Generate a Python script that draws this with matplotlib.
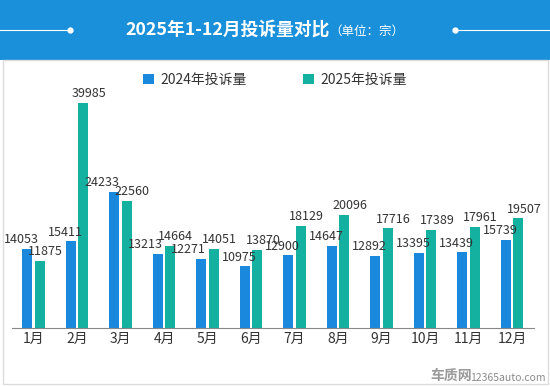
import matplotlib.pyplot as plt
import numpy as np
from matplotlib.patches import Rectangle

plt.rcParams['font.family'] = ['Noto Sans CJK SC', 'DejaVu Sans']

months = ['1月', '2月', '3月', '4月', '5月', '6月', '7月', '8月', '9月', '10月', '11月', '12月']
y2024 = [14053, 15411, 24233, 13213, 12271, 10975, 12900, 14647, 12892, 13395, 13439, 15739]
y2025 = [11875, 39985, 22560, 14664, 14051, 13870, 18129, 20096, 17716, 17389, 17961, 19507]

c24 = '#1a88dc'
c25 = '#14b1a1'
band = '#1a90da'

fig = plt.figure(figsize=(5.5, 3.86), dpi=100)
fig.patch.set_facecolor('white')

# header band
fig.patches.append(Rectangle((0, 1 - 60 / 386), 1, 60 / 386, transform=fig.transFigure,
                             facecolor=band, edgecolor='none', zorder=0))
# frame round the white area
fig.patches.append(Rectangle((3 / 550, 2 / 386), 545 / 550, 1 - 62 / 386, transform=fig.transFigure,
                             facecolor='none', edgecolor='#dcdcdc', lw=1, zorder=0))

ty = 1 - 30 / 386
fig.text(125 / 550, ty, '2025年1-12月投诉量对比', color='white', fontsize=12.8,
         fontweight='bold', ha='left', va='center')
fig.text(329 / 550, ty - 0.003, '（单位：宗）', color='white', fontsize=9, ha='left', va='center')
fig.add_artist(plt.Line2D([0, 70 / 550], [ty, ty], color='white', lw=0.8, transform=fig.transFigure))
fig.add_artist(plt.Line2D([70 / 550], [ty], marker='o', ms=3.5, color='white', transform=fig.transFigure))
fig.add_artist(plt.Line2D([455 / 550, 1], [ty, ty], color='white', lw=0.8, transform=fig.transFigure))
fig.add_artist(plt.Line2D([455 / 550], [ty], marker='o', ms=3.5, color='white', transform=fig.transFigure))

ax = fig.add_axes([11.75 / 550, 58 / 386, 522 / 550, 253 / 386])
x = np.arange(len(months))
w = 0.23
b1 = ax.bar(x - 0.145, y2024, w, color=c24, label='2024年投诉量')
b2 = ax.bar(x + 0.145, y2025, w, color=c25, label='2025年投诉量')

# push the 2024 label further left when the pair sits at nearly the same height
for rect, v, v2 in zip(b1, y2024, y2025):
    dx = -9 if abs(v - v2) < 1900 else -4
    ax.annotate(str(v), (rect.get_x() + rect.get_width() / 2, v), xytext=(dx, 2),
                textcoords='offset points', ha='center', va='bottom', fontsize=9, color='#333333')
for rect, v in zip(b2, y2025):
    ax.annotate(str(v), (rect.get_x() + rect.get_width() / 2, v), xytext=(4, 2),
                textcoords='offset points', ha='center', va='bottom', fontsize=9, color='#333333')

ax.set_xlim(-0.5, len(months) - 0.5)
ax.set_ylim(0, 45000)
ax.set_xticks(x)
ax.set_xticklabels(months, fontsize=10, color='#333333')
ax.tick_params(axis='x', length=0, pad=3)
ax.set_yticks([])
for s in ['top', 'right', 'left']:
    ax.spines[s].set_visible(False)
ax.spines['bottom'].set_color('#888888')
ax.set_facecolor('none')

fig.legend(handles=[b1, b2], loc='center', bbox_to_anchor=(0.5, 1 - 80 / 386), ncol=2,
           frameon=False, fontsize=10, handlelength=0.8, handleheight=0.8,
           columnspacing=4.0, handletextpad=0.5, labelcolor='#333333')

# watermark
fig.text(430 / 550, 10 / 386, '车质网', fontsize=10, fontweight='bold', color='#9a9a9a',
         ha='left', va='center')
fig.text(470 / 550, 8 / 386, '12365auto.com', fontsize=7.5, color='#8a8a8a', ha='left', va='center')

fig.savefig('out.png', dpi=100)
